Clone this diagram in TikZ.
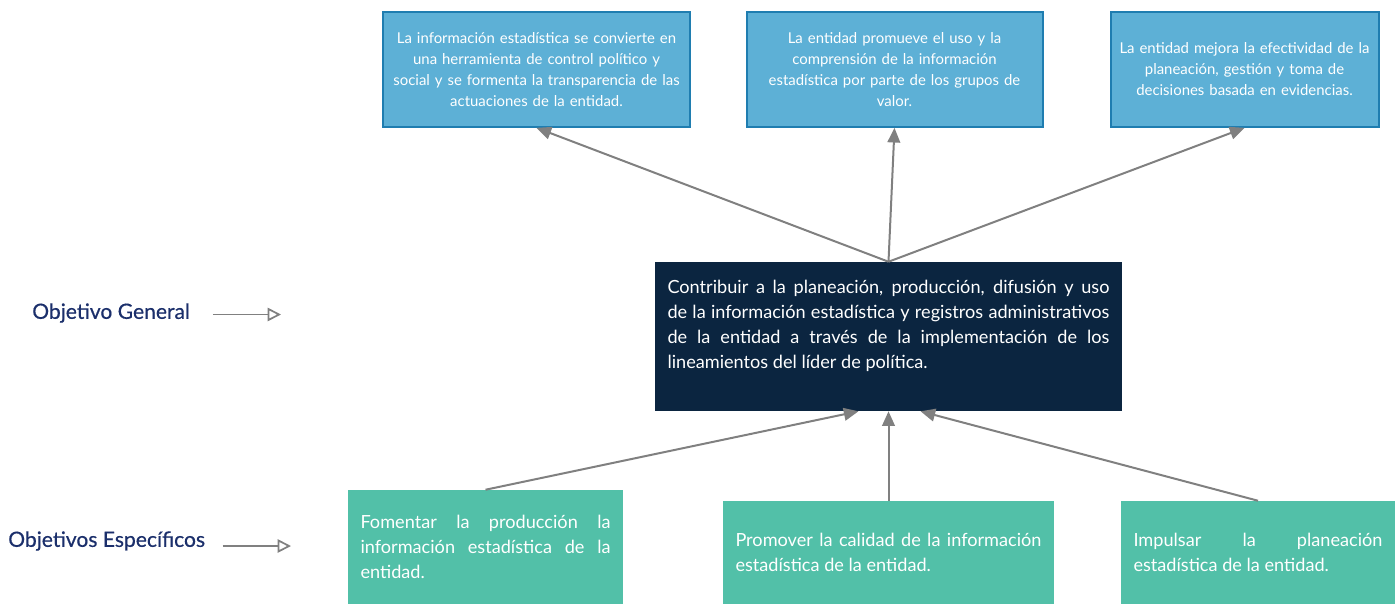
\documentclass[tikz,border=0pt]{standalone}
\usepackage{fontspec}
\setmainfont{Lato}
\newfontfamily\tagfont[FakeBold=0.5]{Lato}
\usetikzlibrary{arrows.meta,positioning}

\definecolor{topfill}{HTML}{5DB0D6}
\definecolor{topline}{HTML}{1F7DB0}
\definecolor{genfill}{HTML}{0B2540}
\definecolor{espfill}{HTML}{52C0A8}
\definecolor{navy}{HTML}{1B2F6B}
\definecolor{arrowgray}{HTML}{808080}

\begin{document}
\begin{tikzpicture}[x=0.75pt,y=-0.75pt,
  >={Triangle[length=11pt,width=9.5pt]},
  topbox/.style={draw=topline,line width=1.5pt,fill=topfill,text=white,
    align=center,font=\fontsize{11.2}{15.75}\selectfont},
  genbox/.style={fill=genfill,text=white,align=justify,inner xsep=9.5pt,
    font=\fontsize{13.6}{18.75}\selectfont},
  espbox/.style={fill=espfill,text=white,align=justify,inner xsep=9.5pt,
    font=\fontsize{13.6}{18.75}\selectfont},
  tag/.style={text=navy,inner sep=0pt,font=\tagfont\fontsize{15.8}{18}\selectfont},
  tagarrow/.style={draw=arrowgray,line width=1.3pt,
    -{Triangle[open,length=10pt,width=10pt]}}]

  \useasboundingbox (0,0) rectangle (1395,604);

  % resultados
  \node[topbox,minimum width=230pt,minimum height=86pt,text width=220pt]
    (res1) at (536.5,69.5)
    {La información estadística se convierte en\\una herramienta de control político y\\social y se formenta la transparencia de las\\actuaciones de la entidad.};
  \node[topbox,minimum width=222pt,minimum height=86pt,text width=210pt]
    (res2) at (894.5,69.5)
    {La entidad promueve el uso y la\\comprensión de la información\\estadística por parte de los grupos de\\valor.};
  \node[topbox,minimum width=201pt,minimum height=86pt,text width=192pt]
    (res3) at (1244.5,69.5)
    {La entidad mejora la efectividad de la\\planeación, gestión y toma de\\decisiones basada en evidencias.};

  % objetivo general
  \node[genbox,minimum width=350.25pt,minimum height=111.75pt,text width=331.5pt]
    (gen) at (888.5,336.5)
    {Contribuir a la planeación, producción, difusión y uso\linebreak
     de la información estadística y registros administrativos\linebreak
     de la entidad a través de la implementación de los\linebreak
     lineamientos del líder de política.\par\vspace{16pt}};

  % objetivos especificos
  \node[espbox,minimum width=206.25pt,minimum height=85.5pt,text width=187.5pt]
    (esp1) at (485.5,547)
    {Fomentar la producción la\linebreak información estadística de la\linebreak entidad.};
  \node[espbox,minimum width=248.25pt,minimum height=77.25pt,text width=229.5pt]
    (esp2) at (888.5,552.5)
    {Promover la calidad de la información\linebreak estadística de la entidad.};
  \node[espbox,minimum width=205.5pt,minimum height=77.25pt,text width=186.75pt]
    (esp3) at (1258,552.5)
    {Impulsar la planeación\linebreak estadística de la entidad.};

  \node[tag,anchor=west] (tgen) at (32,313) {Objetivo General};
  \node[tag,anchor=west] (tesp) at (8,541) {Objetivos Específicos};
  \coordinate (tgenend) at (281,314.5);
  \coordinate (tespend) at (291,546);

  \path[->,arrowgray,line width=1.5pt]
    (gen.north) edge (res1.south)
    (gen.north) edge (res2.south)
    (gen.north) edge (res3.south)
    (esp1.north) edge ([xshift=-22.5pt]gen.south)
    (esp2.north) edge (gen.south)
    (esp3.north) edge ([xshift=24pt]gen.south);

  \draw[tagarrow] ([xshift=17pt]tgen.east |- tgenend) -- (tgenend);
  \draw[tagarrow] ([xshift=13pt]tesp.east |- tespend) -- (tespend);
\end{tikzpicture}
\end{document}
